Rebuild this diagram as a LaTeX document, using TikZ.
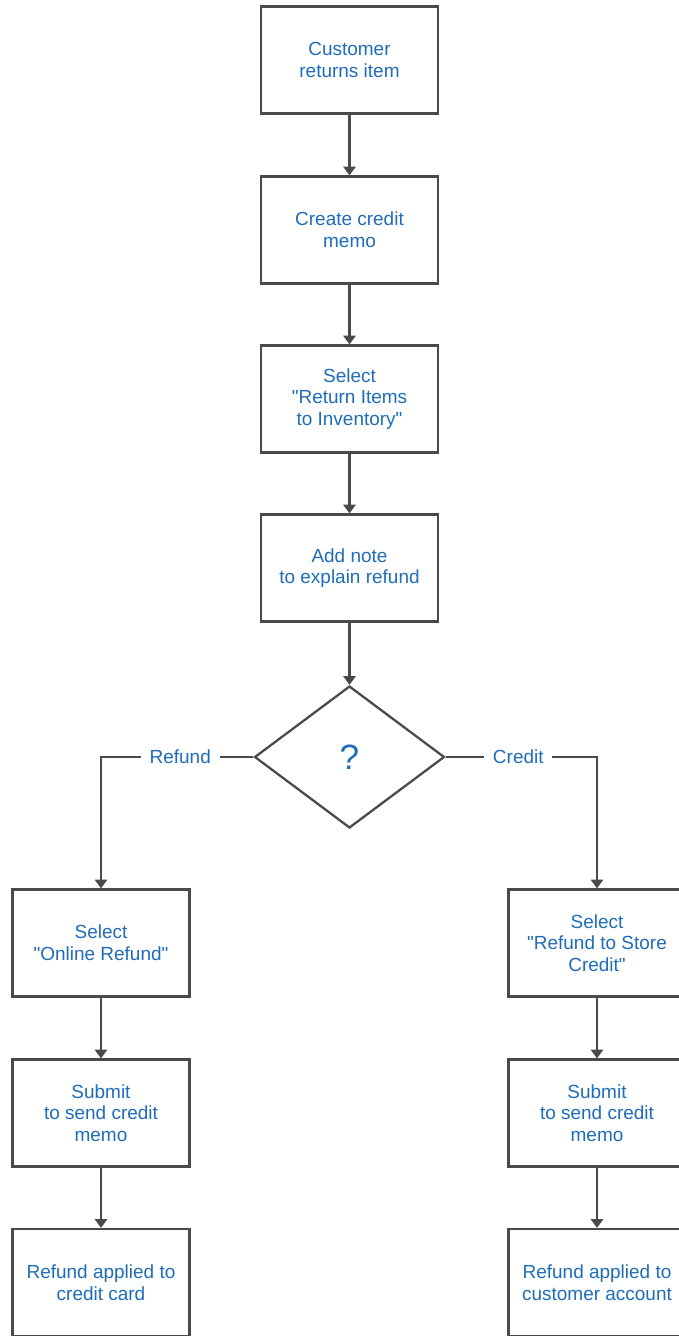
\documentclass[tikz,border=0pt]{standalone}
\usepackage{fontspec}
\setmainfont{Liberation Sans}
\usetikzlibrary{arrows.meta,positioning,shapes.geometric}
\definecolor{Ink}{HTML}{4A4A4A}
\definecolor{Label}{HTML}{1F6DB8}
\newcommand{\qq}{\textquotedbl}

\begin{document}
\begin{tikzpicture}[x=0.02cm,y=-0.02cm,
  stepbox/.style={draw=Ink,line width=1.3pt,fill=white,minimum width=3.54cm,minimum height=2.14cm,align=center,font=\fontsize{10.8}{12.3}\selectfont,text=Label},
  choice/.style={diamond,draw=Ink,line width=1.3pt,inner sep=0pt,minimum width=3.8cm,minimum height=2.84cm,font=\fontsize{20}{24}\selectfont,text=Label},
  flow/.style={draw=Ink,line width=1.3pt,-{Triangle[width=7pt,length=5pt]}},
  tag/.style={fill=white,inner xsep=5pt,inner ysep=1pt,font=\fontsize{10.8}{12.3}\selectfont,text=Label}]
\useasboundingbox (0,0) rectangle (679,1336);
\node[stepbox] (cust) at (349.5,60) {Customer\\returns item};
\node[stepbox] (memo) at (349.5,230) {Create credit\\memo};
\node[stepbox] (inv) at (349.5,399) {Select\\\qq Return Items\\to Inventory\qq};
\node[stepbox] (note) at (349.5,568) {Add note\\to explain refund};
\node[choice] (ask) at (349.5,757) {?};
\node[stepbox] (online) at (101,943) {Select\\\qq Online Refund\qq};
\node[stepbox] (subl) at (101,1113) {Submit\\to send credit\\memo};
\node[stepbox] (card) at (101,1282.5) {Refund applied to\\credit card};
\node[stepbox] (store) at (597,943) {Select\\\qq Refund to Store\\Credit\qq};
\node[stepbox] (subr) at (597,1113) {Submit\\to send credit\\memo};
\node[stepbox] (acct) at (597,1282.5) {Refund applied to\\customer account};
\draw[flow] (cust) -- (memo);
\draw[flow] (memo) -- (inv);
\draw[flow] (inv) -- (note);
\draw[flow] (note) -- (ask);
\draw[flow] (ask.west) -| node[tag,pos=0.24] {Refund} (online.north);
\draw[flow] (ask.east) -| node[tag,pos=0.24] {Credit} (store.north);
\draw[flow] (online) -- (subl);
\draw[flow] (subl) -- (card);
\draw[flow] (store) -- (subr);
\draw[flow] (subr) -- (acct);
\end{tikzpicture}
\end{document}
